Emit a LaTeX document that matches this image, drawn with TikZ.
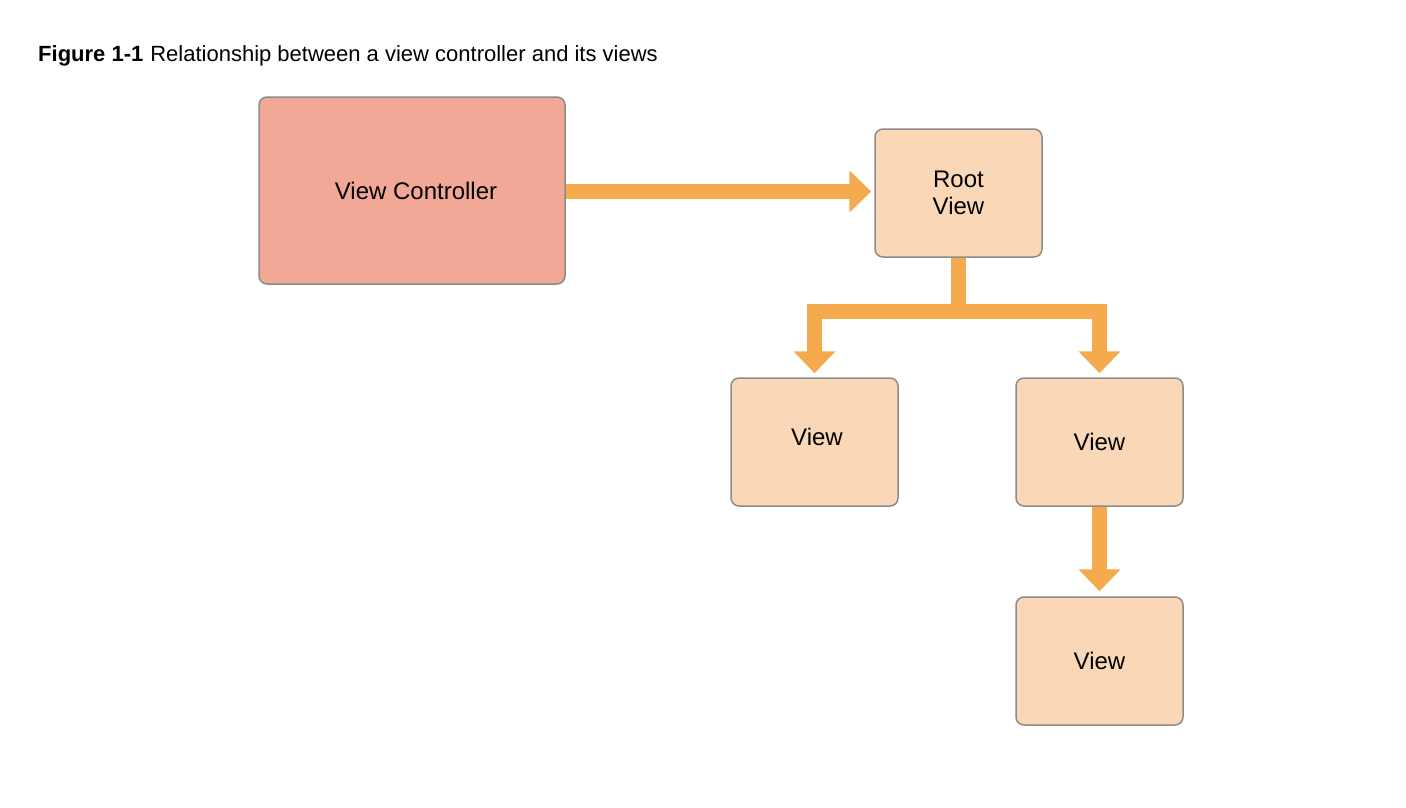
\documentclass[tikz,border=0pt]{standalone}
\usepackage{fontspec}
\setmainfont{Liberation Sans}
\usetikzlibrary{arrows.meta}
\definecolor{vcfill}{HTML}{F1A897}
\definecolor{vfill}{HTML}{FAD8B7}
\definecolor{boxline}{HTML}{8C8C8C}
\definecolor{arrowc}{HTML}{F5AA4D}
\tikzset{
  box/.style={draw=boxline, line width=1.5pt, rounded corners=8pt, inner sep=0pt, align=center,
    font=\fontsize{24}{27}\selectfont},
  vcbox/.style={box, fill=vcfill, minimum width=306pt, minimum height=187pt},
  vbox/.style={box, fill=vfill, minimum width=167pt, minimum height=128pt},
  arr/.style={draw=arrowc, line width=15pt, line join=miter, line cap=butt,
    -{Triangle[width=41pt,length=22pt]}},
}
\begin{document}
\begin{tikzpicture}[x=1pt,y=-1pt]
\useasboundingbox (0,0) rectangle (1406,808);
\node[anchor=base west, inner sep=0pt, font=\fontsize{22}{26}\selectfont] (title) at (38,62)
  {\textbf{Figure 1-1}\hspace{7pt}Relationship between a view controller and its views};
\node[vcbox] (vc) at (412,190.5) {\hspace*{8pt}View Controller};
\node[vbox] (rv) at (958.5,193) {Root\\View};
\node[vbox] (v1) at (814.5,442) {\hspace*{5pt}View\\[-17pt]\mbox{}};
\node[vbox] (v2) at (1099.5,442) {View};
\node[vbox] (v3) at (1099.5,661) {View};
\coordinate (vcout) at ([yshift=-1pt]vc.east);
\draw[arr, shorten >=3pt] (vcout) -- (vcout -| rv.west);
\draw[arr, shorten >=4pt] (rv.south) |- ++(0,53.5) -| (v1.north);
\draw[arr, shorten >=4pt] (rv.south) |- ++(0,53.5) -| (v2.north);
\draw[arr, shorten >=5pt] (v2.south) -- (v3.north);
\end{tikzpicture}
\end{document}
